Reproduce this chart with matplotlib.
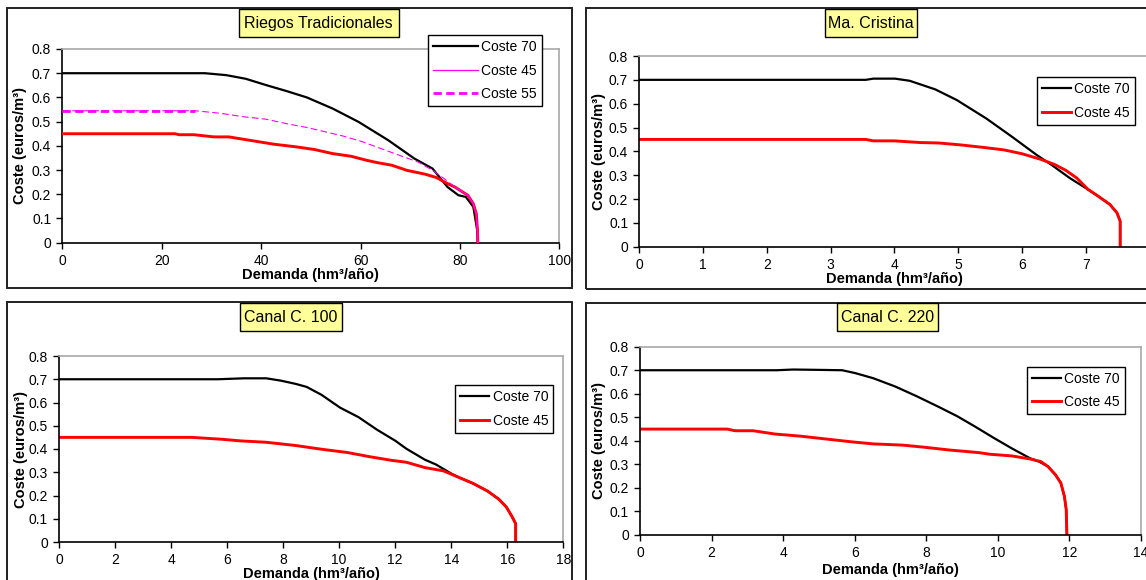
import matplotlib
matplotlib.use("Agg")
import matplotlib.pyplot as plt
from matplotlib.patches import Rectangle

plt.rcParams['font.family'] = ['Liberation Sans', 'DejaVu Sans']

W, H = 1146, 580

# ---------------- data ----------------
# Riegos Tradicionales
rt_x70 = [0, 10, 20, 28.7, 33, 36.9, 41, 45, 49.2, 54.4, 59.6, 65.6, 70.8, 74.5,
          77.5, 79.7, 81.2, 82.7, 83.5, 83.6]
rt_y70 = [0.70, 0.70, 0.70, 0.70, 0.692, 0.677, 0.651, 0.627, 0.600, 0.554, 0.499,
          0.423, 0.348, 0.306, 0.230, 0.196, 0.189, 0.148, 0.050, 0.0]
rt_x45 = [0, 22.7, 23.5, 26.5, 30.5, 33.5, 35, 39.5, 42.5, 47, 50.7, 54.4, 58.1,
          61.1, 63.3, 66.3, 69.3, 73, 75.3, 77.5, 79, 80.5, 81.6, 82.7, 83.3,
          83.55, 83.6]
rt_y45 = [0.45, 0.45, 0.446, 0.446, 0.437, 0.437, 0.432, 0.417, 0.407, 0.396,
          0.385, 0.368, 0.357, 0.341, 0.331, 0.320, 0.299, 0.283, 0.269, 0.244,
          0.230, 0.210, 0.196, 0.161, 0.120, 0.050, 0.0]
rt_x55 = [0, 26.8, 32, 36.5, 41, 45.5, 49.2, 52.9, 56.6, 60.4, 64.1, 67.8, 71.5,
          74.5, 76.8, 79, 80.5, 81.6, 82.7, 83.3, 83.55, 83.6]
rt_y55 = [0.545, 0.545, 0.534, 0.520, 0.510, 0.490, 0.476, 0.458, 0.440, 0.417,
          0.389, 0.361, 0.334, 0.299, 0.265, 0.230, 0.210, 0.196, 0.161, 0.120,
          0.050, 0.0]

# Ma. Cristina
mc_x70 = [0, 3.55, 3.67, 4.01, 4.24, 4.64, 4.98, 5.44, 5.84, 6.23, 6.46, 6.75,
          7.0, 7.2, 7.38, 7.49, 7.54, 7.54]
mc_y70 = [0.70, 0.70, 0.705, 0.705, 0.696, 0.660, 0.615, 0.538, 0.462, 0.385,
          0.344, 0.288, 0.246, 0.211, 0.177, 0.142, 0.107, 0.0]
mc_x45 = [0, 3.55, 3.67, 4.0, 4.4, 4.7, 5.04, 5.38, 5.72, 6.0, 6.29, 6.52, 6.69,
          6.86, 7.03, 7.2, 7.38, 7.49, 7.54, 7.54]
mc_y45 = [0.45, 0.45, 0.444, 0.444, 0.437, 0.435, 0.427, 0.417, 0.406, 0.390,
          0.367, 0.344, 0.320, 0.288, 0.242, 0.211, 0.177, 0.142, 0.107, 0.0]

# Canal C. 100
c100_x70 = [0, 5.67, 6.6, 7.4, 7.92, 8.45, 8.84, 9.37, 10.03, 10.69, 11.35, 12.01,
            12.4, 13.06, 13.46, 13.99, 14.25, 14.78, 15.31, 15.7, 15.97, 16.17,
            16.3, 16.3]
c100_y70 = [0.70, 0.70, 0.704, 0.704, 0.694, 0.680, 0.667, 0.633, 0.578, 0.537,
            0.483, 0.435, 0.401, 0.354, 0.333, 0.295, 0.279, 0.252, 0.218, 0.184,
            0.150, 0.109, 0.079, 0.0]
c100_x45 = [0, 4.75, 5.8, 6.47, 7.39, 8.45, 9.37, 10.29, 11.08, 11.88, 12.4, 13.06,
            13.72, 14.25, 14.78, 15.31, 15.7, 15.97, 16.17, 16.3, 16.3]
c100_y45 = [0.45, 0.45, 0.442, 0.435, 0.429, 0.415, 0.399, 0.385, 0.367, 0.351,
            0.343, 0.320, 0.306, 0.279, 0.252, 0.218, 0.184, 0.150, 0.109, 0.079,
            0.0]

# Canal C. 220
c220_x70 = [0, 3.82, 4.28, 4.79, 5.65, 6.01, 6.52, 7.13, 7.74, 8.35, 8.86, 9.37,
            9.88, 10.39, 10.9, 11.15, 11.4, 11.61, 11.76, 11.86, 11.91, 11.93]
c220_y70 = [0.70, 0.70, 0.703, 0.702, 0.70, 0.688, 0.666, 0.631, 0.589, 0.544,
            0.505, 0.460, 0.413, 0.368, 0.326, 0.312, 0.291, 0.256, 0.221, 0.164,
            0.108, 0.0]
c220_x45 = [0, 2.44, 2.65, 3.16, 3.77, 4.48, 5.19, 5.9, 6.52, 7.33, 7.94, 8.65,
            9.47, 9.78, 10.39, 10.9, 11.2, 11.4, 11.61, 11.76, 11.86, 11.91, 11.93]
c220_y45 = [0.45, 0.45, 0.443, 0.443, 0.429, 0.420, 0.408, 0.396, 0.387, 0.382,
            0.373, 0.361, 0.350, 0.343, 0.336, 0.323, 0.312, 0.291, 0.256, 0.221,
            0.164, 0.108, 0.0]

titles = ["Riegos Tradicionales", "Ma. Cristina", "Canal C. 100", "Canal C. 220"]
x_max = [100, 8, 18, 14]
x_step = [20, 1, 2, 2]
y_ticks = [0, 0.1, 0.2, 0.3, 0.4, 0.5, 0.6, 0.7, 0.8]
y_tick_labels = ["0", "0.1", "0.2", "0.3", "0.4", "0.5", "0.6", "0.7", "0.8"]
label_70, label_45, label_55 = "Coste 70", "Coste 45", "Coste 55"
x_title = "Demanda (hm³/año)"
y_title = "Coste (euros/m³)"

# ---------------- layout (pixels) ----------------
fig = plt.figure(figsize=(W / 100, H / 100), dpi=100)
fig.patch.set_facecolor("white")


def frect(x0, y0, x1, y1):
    return [x0 / W, 1 - y1 / H, (x1 - x0) / W, (y1 - y0) / H]


def fx(x):
    return x / W


def fy(y):
    return 1 - y / H


panel_frames = [(6.7, 8.3, 571.7, 287.7), (585.7, 8.3, 1175, 289),
                (7.3, 302, 571.7, 600), (585.7, 302.7, 1175, 600)]
plot_areas = [(62.3, 49, 559.3, 242.7), (639.3, 56, 1149.5, 246.7),
              (59, 356, 563.3, 542), (640, 346.7, 1141, 535)]
title_boxes = [(238.7, 9.3, 398.5, 37.3), (825, 9.3, 917, 37.3),
               (240, 302.5, 342, 331), (836.5, 302.5, 937.7, 331)]
legend_corners = [(427.5, 35), (1036.8, 77.3), (455, 385), (1026.6, 366.7)]
ylabel_x = [20.4, 599.4, 21.2, 599.4]
xlabel_y = [275, 279, 574, 570]

# panel frames
for (x0, y0, x1, y1) in panel_frames:
    fig.add_artist(Rectangle((fx(x0), fy(y1)), (x1 - x0) / W, (y1 - y0) / H,
                             transform=fig.transFigure, fill=False,
                             edgecolor="#202020", linewidth=1.4, zorder=0))

axes = []
for i, (x0, y0, x1, y1) in enumerate(plot_areas):
    ax = fig.add_axes(frect(x0, y0, x1, y1))
    ax.set_xlim(0, x_max[i])
    ax.set_ylim(0, 0.8)
    ax.set_xticks(range(0, x_max[i] + 1, x_step[i]))
    ax.set_yticks(y_ticks)
    ax.set_yticklabels(y_tick_labels)
    for s in ("top", "right"):
        ax.spines[s].set_color("#a8a8a8")
        ax.spines[s].set_linewidth(1.2)
    for s in ("left", "bottom"):
        ax.spines[s].set_color("black")
        ax.spines[s].set_linewidth(1.2)
    ax.tick_params(direction="out", length=4, width=1, labelsize=10,
                   color="black", pad=4)
    ax.tick_params(axis="x", pad=4)
    ax.patch.set_facecolor("white")
    # axis titles placed in figure pixels
    fig.text(fx((x0 + x1) / 2), fy(xlabel_y[i]), x_title, ha="center",
             va="center", fontsize=10.5, fontweight="bold")
    fig.text(fx(ylabel_x[i]), fy((y0 + y1) / 2), y_title, rotation=90,
             ha="center", va="center", fontsize=10.5, fontweight="bold")
    axes.append(ax)

# title boxes
for (x0, y0, x1, y1), t in zip(title_boxes, titles):
    fig.add_artist(Rectangle((fx(x0), fy(y1)), (x1 - x0) / W, (y1 - y0) / H,
                             transform=fig.transFigure, facecolor="#ffff99",
                             edgecolor="black", linewidth=1.0, zorder=5))
    fig.text(fx((x0 + x1) / 2), fy((y0 + y1) / 2 + 0.5), t, ha="center",
             va="center", fontsize=11.5, zorder=6)

BLACK_LW, RED_LW = 1.6, 2.1

# Riegos Tradicionales
ax = axes[0]
h70, = ax.plot(rt_x70, rt_y70, color="black", lw=BLACK_LW, label=label_70)
ax.plot(rt_x45, rt_y45, color="#ff0000", lw=RED_LW, zorder=3)
tail = [(x, y) for x, y in zip(rt_x45, rt_y45) if x >= 78]
h45, = ax.plot([p[0] for p in tail], [p[1] for p in tail], color="#ff00ff",
               lw=0.9, zorder=4, label=label_45)
flat = [(x, y) for x, y in zip(rt_x55, rt_y55) if x <= 27]
h55, = ax.plot([p[0] for p in flat], [p[1] for p in flat], color="#ff00ff",
               lw=2.0, ls=(0, (3, 1.6)), zorder=4, label=label_55)
ax.plot(rt_x55, rt_y55, color="#ff00ff", lw=0.8, ls=(0, (6, 3)), zorder=3)

# Ma. Cristina
axes[1].plot(mc_x70, mc_y70, color="black", lw=BLACK_LW, label=label_70)
axes[1].plot(mc_x45, mc_y45, color="#ff0000", lw=RED_LW, label=label_45)
# Canal C. 100
axes[2].plot(c100_x70, c100_y70, color="black", lw=BLACK_LW, label=label_70)
axes[2].plot(c100_x45, c100_y45, color="#ff0000", lw=RED_LW, label=label_45)
# Canal C. 220
axes[3].plot(c220_x70, c220_y70, color="black", lw=BLACK_LW, label=label_70)
axes[3].plot(c220_x45, c220_y45, color="#ff0000", lw=RED_LW, label=label_45)

for i, ax in enumerate(axes):
    if i == 0:
        handles = [h70, h45, h55]
        hl = 3.25
    else:
        handles = ax.get_lines()
        hl = 2.1
    lx, ly = legend_corners[i]
    leg = ax.legend(handles=handles, loc="upper left",
                    bbox_to_anchor=(fx(lx), fy(ly)),
                    bbox_transform=fig.transFigure, borderaxespad=0,
                    fontsize=10, handlelength=hl, handletextpad=0.25,
                    labelspacing=0.69, borderpad=0.36, fancybox=False,
                    framealpha=1, edgecolor="black")
    leg.get_frame().set_linewidth(1.0)
    leg.set_zorder(10)

fig.savefig("out.png", dpi=100, facecolor="white")
